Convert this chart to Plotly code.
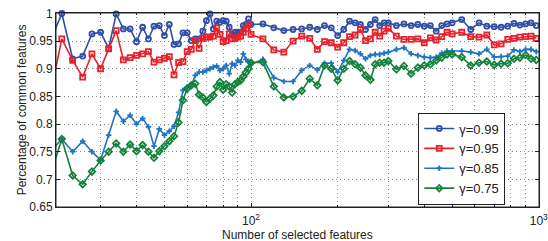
import numpy as np
import plotly.graph_objects as go

# ---- data ----
x_feat = (list(range(20, 101, 2)) + list(range(110, 301, 10))
          + list(range(320, 501, 20)) + list(range(540, 981, 40)))

g099 = [0.947, 1.0, 0.918, 0.923, 0.963, 0.966, 0.937, 0.999, 0.972, 0.972,
        0.949, 0.975, 0.954, 0.977, 0.978, 0.960, 0.980, 0.944, 0.945, 0.965,
        0.965, 0.951, 0.954, 0.954, 0.968, 0.987, 0.999, 0.972, 0.986, 0.984,
        0.987, 0.986, 0.975, 0.962, 0.966, 0.966, 0.966, 0.978, 0.980, 0.990,
        0.980,
        0.981, 0.974, 0.969, 0.971, 0.972, 0.975, 0.971, 0.978, 0.974, 0.960,
        0.971, 0.986, 0.983, 0.980, 0.971, 0.980, 0.989, 0.978, 0.983, 0.983,
        0.978, 0.981, 0.978, 0.980, 0.977, 0.978, 0.968, 0.978, 0.981, 0.983,
        0.989, 0.971, 0.983, 0.977, 0.976, 0.975, 0.977, 0.982, 0.979, 0.981,
        0.983, 0.978]

g095 = [0.850, 0.954, 0.915, 0.885, 0.927, 0.900, 0.936, 0.969, 0.916, 0.920,
        0.924, 0.927, 0.931, 0.912, 0.916, 0.919, 0.922, 0.889, 0.911, 0.913,
        0.931, 0.935, 0.951, 0.937, 0.955, 0.957, 0.957, 0.959, 0.974, 0.962,
        0.949, 0.951, 0.963, 0.954, 0.955, 0.957, 0.959, 0.966, 0.972, 0.980,
        0.962,
        0.954, 0.934, 0.930, 0.950, 0.959, 0.955, 0.935, 0.949, 0.947, 0.939,
        0.947, 0.958, 0.961, 0.971, 0.951, 0.954, 0.966, 0.959, 0.968, 0.973,
        0.959, 0.953, 0.953, 0.954, 0.947, 0.956, 0.952, 0.958, 0.966, 0.963,
        0.966, 0.958, 0.957, 0.961, 0.943, 0.945, 0.953, 0.955, 0.957, 0.958,
        0.959, 0.955]

g085 = [0.749, 0.773, 0.750, 0.769, 0.750, 0.735, 0.780, 0.823, 0.805, 0.816,
        0.800, 0.810, 0.795, 0.760, 0.791, 0.780, 0.787, 0.796, 0.821, 0.861,
        0.867, 0.870, 0.888, 0.894, 0.894, 0.897, 0.900, 0.903, 0.905, 0.897,
        0.900, 0.906, 0.891, 0.909, 0.906, 0.915, 0.912, 0.927, 0.917, 0.913,
        0.908,
        0.917, 0.884, 0.877, 0.877, 0.897, 0.906, 0.898, 0.910, 0.910, 0.894,
        0.915, 0.935, 0.933, 0.927, 0.918, 0.924, 0.926, 0.926, 0.928, 0.930,
        0.935, 0.938, 0.927, 0.924, 0.921, 0.920, 0.921, 0.928, 0.932, 0.932,
        0.932, 0.930, 0.927, 0.935, 0.921, 0.922, 0.923, 0.934, 0.931, 0.935,
        0.935, 0.931]

g075 = [0.705, 0.773, 0.707, 0.691, 0.714, 0.734, 0.750, 0.765, 0.750, 0.763,
        0.751, 0.762, 0.750, 0.739, 0.751, 0.760, 0.769, 0.778, 0.803, 0.843,
        0.864, 0.870, 0.873, 0.853, 0.848, 0.840, 0.846, 0.852, 0.868, 0.876,
        0.862, 0.872, 0.868, 0.857, 0.872, 0.876, 0.879, 0.886, 0.893, 0.900,
        0.911,
        0.912, 0.868, 0.848, 0.850, 0.860, 0.882, 0.870, 0.906, 0.900, 0.879,
        0.900, 0.914, 0.908, 0.902, 0.888, 0.880, 0.908, 0.911, 0.911, 0.914,
        0.899, 0.905, 0.891, 0.902, 0.906, 0.908, 0.915, 0.920, 0.926, 0.926,
        0.921, 0.906, 0.911, 0.913, 0.907, 0.909, 0.910, 0.918, 0.920, 0.925,
        0.918, 0.916]

series_names = ["γ=0.99", "γ=0.95", "γ=0.85", "γ=0.75"]
y_tick_vals = [0.65, 0.7, 0.75, 0.8, 0.85, 0.9, 0.95, 1.0]
y_tick_text = ["0.65", "0.7", "0.75", "0.8", "0.85", "0.9", "0.95", "1"]
x_tick_vals = [100, 1000]
x_tick_text = ["10<sup>2</sup>", "10<sup>3</sup>"]
x_minor_vals = [30, 40, 50, 60, 70, 80, 90, 200, 300, 400, 500, 600, 700, 800, 900]
x_title = "Number of selected features"
y_title = "Percentage of common features"

for s in (g099, g095, g085, g075):
    assert len(s) == len(x_feat), (len(s), len(x_feat))

# ---- styling ----
FONT = "Liberation Sans, Arial, sans-serif"
x_min = 21
colors = ["#2F4FA6", "#E8212B", "#1F74C4", "#13823A"]
symbols = ["circle-open", "square-open", "cross-thin-open", "diamond-open"]
msizes = [5, 5, 4, 5]
op = [0 if v < x_min else 1 for v in x_feat]

fig = go.Figure()
for name, ys, c, sym, ms in zip(series_names, [g099, g095, g085, g075], colors, symbols, msizes):
    fig.add_trace(go.Scatter(
        x=x_feat, y=ys, name=name, mode="lines+markers",
        line=dict(color=c, width=1.6),
        marker=dict(symbol=sym, size=ms, color=c, opacity=op,
                    line=dict(color=c, width=1.8)),
        cliponaxis=False,
    ))

GRID = dict(showgrid=True, gridcolor="#8a8a8a", griddash="1px,3px", gridwidth=1)
axis_common = dict(
    showline=True, linecolor="#222", linewidth=1, mirror="ticks",
    ticks="inside", ticklen=4, tickcolor="#222",
    zeroline=False, automargin=False, ticklabeloverflow="allow",
    tickfont=dict(family=FONT, size=12, color="#222"),
    **GRID,
)

fig.update_xaxes(
    type="log", range=[np.log10(x_min), 3.0008],
    tickvals=x_tick_vals, ticktext=x_tick_text, ticklabelstandoff=3,
    minor=dict(tickvals=x_minor_vals, ticks="inside", ticklen=2, tickcolor="#222", **GRID),
    **axis_common,
)
fig.update_yaxes(
    range=[0.65, 1.0008], tickvals=y_tick_vals, ticktext=y_tick_text,
    title=dict(text=y_title, standoff=0,
               font=dict(family=FONT, size=12, color="#222")),
    **axis_common,
)

# x-axis title as text below the tick labels
fig.add_annotation(text=x_title, xref="paper", yref="paper", x=0.5, y=-0.146,
                   xanchor="center", yanchor="middle", showarrow=False,
                   font=dict(family=FONT, size=12, color="#222"))

# plot frame
fig.add_shape(type="rect", xref="paper", yref="paper", x0=0, y0=0, x1=1, y1=1,
              line=dict(color="#222", width=1), layer="above")

fig.update_layout(
    width=548, height=241,
    margin=dict(l=56, r=9, t=13, b=34),
    paper_bgcolor="white", plot_bgcolor="white",
    font=dict(family=FONT, size=12, color="#222"),
    legend=dict(x=0.750, y=0.487, xanchor="left", yanchor="top",
                bgcolor="white", bordercolor="#222", borderwidth=1,
                font=dict(family=FONT, size=13, color="#222"), tracegroupgap=0,
                itemwidth=30),
    showlegend=True,
)

# remove the default 8px page margin so the figure sits at the window's origin
fig.write_html("out.html", config={"displayModeBar": False},
               post_script="document.body.style.margin='0';document.body.style.overflow='hidden';")
